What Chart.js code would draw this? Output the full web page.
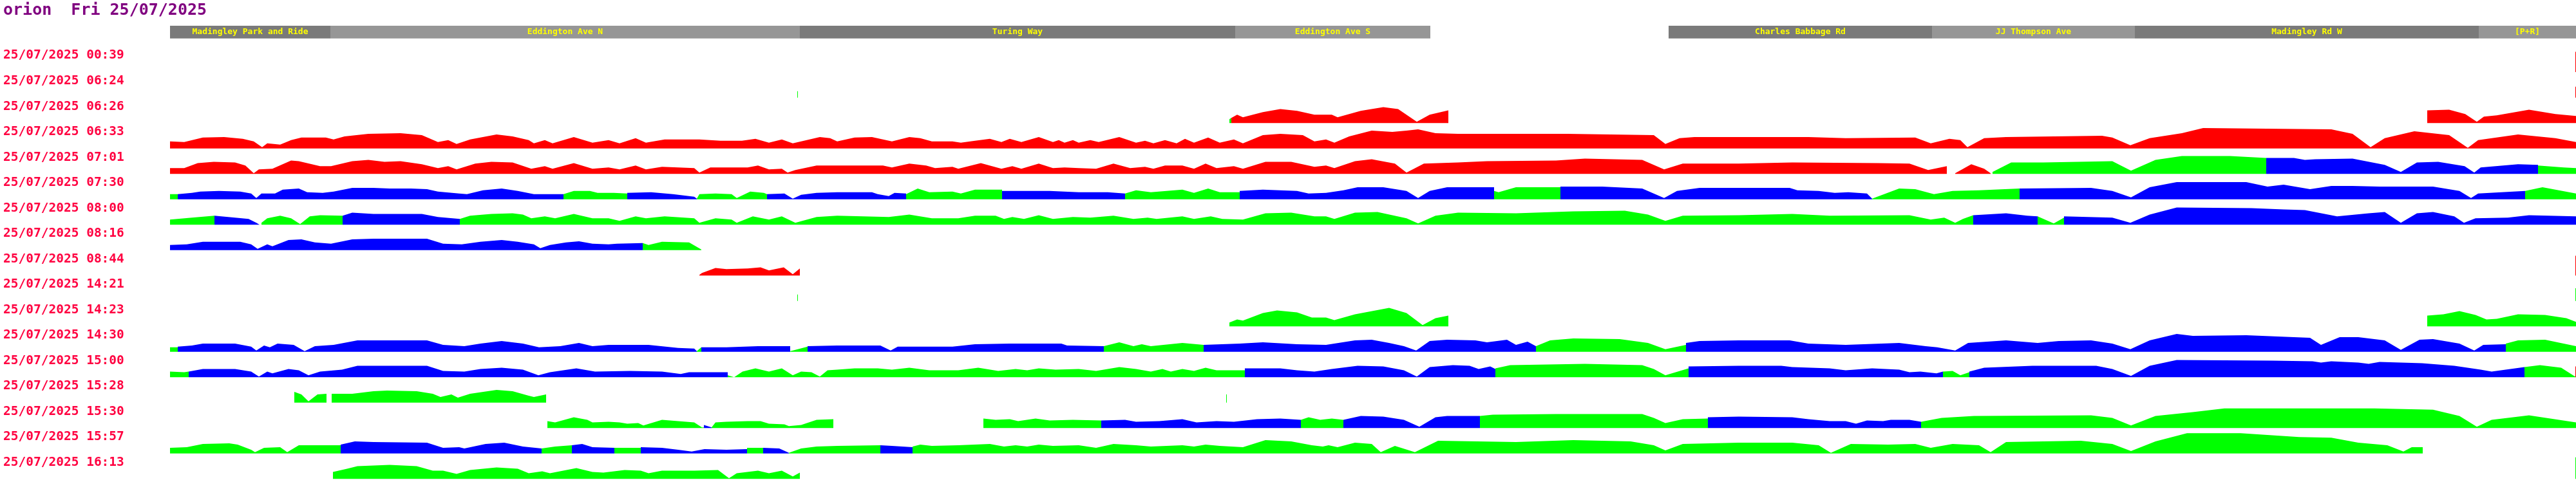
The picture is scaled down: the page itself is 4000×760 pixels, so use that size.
<!DOCTYPE html>
<html lang="en">
<head>
    <meta charset="UTF-8">
    <title>orion Fri 25/07/2025</title>
    <style>
        body {
            margin: 0;
            background-color: #fff;
        }
        .chart-container {
            position: relative;
            width: 4000px;
            height: 760px;
        }
    </style>
    <script src="https://cdn.jsdelivr.net/npm/chart.js@4.4.1/dist/chart.umd.min.js"></script>
</head>
<body>
    <div class="chart-container">
        <canvas id="journeyChart"></canvas>
    </div>

    <script>
        // Journey start times (one row each)
        const rowTimes = [
            '25/07/2025 00:39', '25/07/2025 06:24', '25/07/2025 06:26', '25/07/2025 06:33',
            '25/07/2025 07:01', '25/07/2025 07:30', '25/07/2025 08:00', '25/07/2025 08:16',
            '25/07/2025 08:44', '25/07/2025 14:21', '25/07/2025 14:23', '25/07/2025 14:30',
            '25/07/2025 15:00', '25/07/2025 15:28', '25/07/2025 15:30', '25/07/2025 15:57',
            '25/07/2025 16:13'
        ];

        // Road sections along the route (distance from start)
        const streetNames = ['Madingley Park and Ride', 'Eddington Ave N', 'Turing Way', 'Eddington Ave S',
                             'Charles Babbage Rd', 'JJ Thompson Ave', 'Madingley Rd W', '[P+R]'];
        const streetFrom = [0, 249, 978, 1654, 2327, 2736, 3051, 3585];
        const streetTo   = [249, 978, 1654, 1957, 2736, 3051, 3585, 3736];

        // Run colours
        const runColours = { R: '#ff0000', G: '#00ff00', B: '#0000ff' };

        // Each run: [colour, [distance, speed, distance, speed, ...]]
        const j0039 = [
            ['R', [3735, 32, 3736, 32]]
        ];
        const j0624 = [
            ['G', [974, 10, 975, 10]],
            ['R', [3735, 17, 3736, 17]]
        ];
        const j0626 = [
            ['G', [1645, 6, 1648, 8]],
            ['R', [1648, 8, 1657, 13, 1666, 9, 1697, 17, 1724, 22, 1750, 19, 1777, 13, 1804, 13, 1813, 9, 1849, 19, 1884, 25, 1907, 22, 1936, 2, 1956, 13, 1985, 20]],
            ['R', [3505, 20, 3539, 21, 3564, 14, 3582, 2, 3593, 10, 3613, 12, 3663, 21, 3704, 14, 3736, 11]]
        ];
        const j0633 = [
            ['R', [0, 11, 22, 10, 51, 17, 84, 18, 113, 15, 130, 11, 143, 2, 151, 8, 171, 6, 188, 13, 204, 17, 242, 17, 254, 14, 271, 19, 308, 23, 358, 24, 391, 21, 416, 10, 432, 13, 445, 7, 466, 14, 507, 22, 532, 19, 557, 13, 565, 8, 582, 13, 594, 8, 627, 18, 656, 9, 681, 13, 698, 8, 723, 16, 739, 9, 768, 14, 822, 14, 855, 12, 888, 12, 909, 15, 930, 9, 950, 14, 967, 8, 980, 11, 1009, 18, 1025, 16, 1036, 11,
                   1063, 17, 1090, 18, 1121, 11, 1148, 18, 1165, 16, 1183, 11, 1215, 11, 1228, 9, 1250, 12, 1273, 15, 1291, 10, 1304, 15, 1322, 10, 1349, 18, 1371, 10, 1380, 13, 1389, 9, 1402, 13, 1411, 9, 1429, 13, 1442, 10, 1474, 18, 1500, 9, 1514, 12, 1527, 8, 1545, 13, 1563, 8, 1576, 15, 1590, 9, 1612, 17, 1630, 9, 1652, 14, 1666, 8, 1697, 21, 1724, 23, 1759, 21, 1777, 11, 1795, 14, 1808, 9, 1831, 19, 1866, 28, 1898, 26, 1920, 28, 1938, 30, 1965, 24, 2000, 23, 2108, 23, 2170, 23, 2304, 21, 2322, 7, 2344, 16, 2367, 18, 2436, 18,
                   2544, 18, 2602, 16, 2710, 17, 2734, 8, 2763, 15, 2780, 13, 2791, 2, 2817, 16, 2851, 18, 3000, 20, 3016, 17, 3044, 5, 3074, 16, 3124, 24, 3157, 32, 3356, 30, 3389, 23, 3417, 2, 3439, 16, 3485, 27, 3539, 21, 3568, 1, 3584, 13, 3646, 22, 3704, 16, 3736, 10]]
        ];
        const j0701 = [
            ['R', [0, 9, 22, 9, 43, 17, 68, 19, 101, 18, 117, 13, 130, 1, 138, 7, 159, 8, 188, 21, 200, 20, 233, 12, 250, 12, 283, 20, 308, 22, 333, 19, 358, 20, 391, 15, 416, 9, 432, 12, 445, 7, 474, 16, 499, 19, 532, 18, 561, 8, 582, 12, 594, 8, 627, 17, 656, 8, 681, 10, 698, 7, 723, 13, 739, 7, 764, 11, 814, 9, 822, 2, 839, 10, 897, 10, 913, 13, 930, 7, 950, 8, 959, 2, 971, 6, 1004, 13, 1036, 13,
                   1063, 13, 1107, 13, 1121, 10, 1148, 16, 1174, 13, 1188, 9, 1215, 11, 1224, 8, 1259, 17, 1291, 8, 1308, 12, 1322, 8, 1349, 16, 1371, 9, 1389, 10, 1411, 9, 1438, 8, 1465, 16, 1491, 9, 1514, 11, 1527, 8, 1545, 13, 1572, 13, 1590, 8, 1608, 16, 1625, 9, 1652, 12, 1666, 8, 1701, 19, 1741, 19, 1777, 11, 1795, 13, 1808, 9, 1840, 20, 1866, 23, 1902, 16, 1920, 2, 1947, 16, 2000, 18, 2045, 20, 2152, 21, 2197, 24, 2286, 22, 2320, 7, 2349, 16, 2436, 16,
                   2519, 18, 2652, 17, 2701, 16, 2730, 6, 2759, 12]],
            ['R', [2772, 1, 2797, 15, 2817, 8, 2827, 1]],
            ['G', [2830, 3, 2859, 18, 2909, 18, 3016, 20, 3045, 5, 3083, 22, 3124, 28, 3199, 28, 3255, 25]],
            ['B', [3255, 25, 3298, 25, 3315, 22, 3331, 23, 3389, 24, 3439, 14, 3464, 3, 3489, 18, 3522, 19, 3563, 12, 3578, 2, 3588, 10, 3646, 15, 3677, 14]],
            ['G', [3677, 13, 3717, 10, 3736, 9]]
        ];
        const j0730 = [
            ['G', [0, 8, 12, 8]],
            ['B', [12, 8, 34, 10, 47, 12, 76, 13, 109, 12, 126, 9, 134, 2, 142, 9, 163, 9, 175, 15, 200, 17, 213, 11, 237, 10, 254, 12, 283, 18, 316, 18, 341, 17, 374, 17, 399, 16, 416, 12, 449, 9, 461, 8, 486, 14, 515, 17, 540, 13, 565, 8, 611, 8]],
            ['G', [611, 8, 627, 13, 652, 13, 664, 10, 689, 10, 710, 9]],
            ['B', [710, 10, 747, 11, 781, 8, 814, 4, 818, 1]],
            ['G', [818, 1, 822, 8, 847, 9, 872, 8, 880, 2, 901, 12, 922, 10, 927, 8]],
            ['B', [927, 8, 954, 9, 967, 1, 980, 7, 1004, 10, 1036, 11, 1090, 11, 1099, 8, 1116, 5, 1125, 10, 1143, 9]],
            ['G', [1143, 8, 1161, 17, 1179, 11, 1215, 12, 1228, 9, 1250, 15, 1292, 15]],
            ['B', [1292, 13, 1366, 13, 1411, 11, 1456, 11, 1483, 9]],
            ['G', [1483, 9, 1500, 14, 1523, 11, 1572, 15, 1590, 10, 1612, 17, 1630, 11, 1661, 11]],
            ['B', [1661, 13, 1697, 15, 1750, 13, 1768, 9, 1795, 10, 1822, 14, 1844, 19, 1884, 19, 1920, 13, 1938, 2, 1956, 13, 1983, 19, 2056, 19]],
            ['G', [2056, 13, 2063, 11, 2090, 19, 2159, 19]],
            ['B', [2159, 20, 2224, 20, 2286, 17, 2320, 2, 2340, 13, 2375, 18, 2436, 18, 2515, 18, 2527, 14, 2560, 13, 2585, 10, 2606, 11, 2635, 9, 2643, 1]],
            ['G', [2643, 1, 2685, 17, 2710, 16, 2739, 8, 2768, 13, 2809, 14, 2872, 17]],
            ['B', [2872, 17, 2983, 18, 3016, 13, 3045, 3, 3074, 19, 3116, 27, 3224, 27, 3257, 20, 3282, 23, 3323, 16, 3356, 21, 3389, 21, 3431, 20, 3514, 20, 3555, 13, 3573, 2, 3584, 9, 3657, 13]],
            ['G', [3657, 13, 3684, 19, 3736, 9]]
        ];
        const j0800 = [
            ['G', [0, 8, 34, 11, 69, 14]],
            ['B', [69, 14, 101, 11, 122, 9, 134, 3, 139, 0]],
            ['G', [142, 3, 151, 10, 171, 14, 188, 10, 202, 1, 217, 13, 233, 15, 268, 14]],
            ['B', [268, 14, 283, 19, 316, 17, 391, 17, 416, 12, 450, 9]],
            ['G', [450, 9, 466, 14, 499, 17, 532, 18, 548, 16, 561, 10, 582, 13, 598, 10, 627, 17, 656, 10, 681, 10, 698, 6, 723, 13, 739, 10, 768, 13, 814, 10, 822, 3, 847, 10, 872, 8, 880, 3, 905, 13, 930, 8, 950, 13, 971, 3, 1004, 12, 1036, 14,
                   1116, 12, 1148, 16, 1183, 10, 1224, 10, 1250, 14, 1282, 14, 1295, 9, 1308, 12, 1326, 9, 1349, 15, 1371, 9, 1402, 12, 1429, 11, 1465, 14, 1496, 9, 1518, 11, 1532, 9, 1572, 13, 1590, 9, 1616, 13, 1634, 9, 1666, 8, 1701, 18, 1741, 19, 1777, 13, 1795, 13, 1808, 9, 1840, 19, 1875, 20, 1920, 10, 1938, 2, 1965, 14, 2000, 19, 2090, 18, 2179, 21, 2259, 22, 2295, 16, 2322, 6, 2349, 14, 2436, 15,
                   2519, 17, 2577, 14, 2701, 15, 2734, 8, 2755, 11, 2772, 3, 2784, 9, 2800, 15]],
            ['B', [2800, 15, 2851, 18, 2884, 14, 2900, 13]],
            ['G', [2900, 13, 2925, 2, 2941, 11]],
            ['B', [2941, 13, 3016, 11, 3044, 3, 3074, 16, 3116, 27, 3232, 26, 3282, 24, 3315, 23, 3365, 13, 3414, 18, 3439, 20, 3464, 3, 3489, 18, 3514, 20, 3547, 13, 3562, 3, 3580, 10, 3630, 11, 3663, 15, 3736, 13]]
        ];
        const j0816 = [
            ['B', [0, 8, 26, 9, 51, 13, 84, 13, 109, 13, 126, 9, 136, 2, 151, 9, 159, 6, 184, 16, 204, 17, 225, 12, 250, 10, 283, 17, 316, 18, 399, 18, 424, 10, 453, 9, 482, 13, 515, 16, 540, 13, 565, 9, 575, 3, 590, 8, 615, 12, 635, 14, 656, 10, 681, 9, 694, 10, 734, 11]],
            ['G', [734, 11, 743, 8, 764, 13, 806, 12, 825, 1]]
        ];
        const j0844 = [
            ['R', [822, 1, 826, 4, 847, 12, 864, 10, 897, 11, 917, 13, 930, 8, 953, 13, 967, 2, 978, 11]],
            ['R', [3735, 31, 3736, 31]]
        ];
        const j1421 = [
            ['G', [974, 10, 975, 10]],
            ['G', [3735, 20, 3736, 20]]
        ];
        const j1423 = [
            ['G', [1645, 6, 1657, 11, 1666, 9, 1697, 21, 1719, 25, 1750, 22, 1773, 14, 1795, 14, 1808, 10, 1840, 19, 1893, 29, 1920, 21, 1945, 2, 1965, 13, 1985, 17]],
            ['G', [3505, 17, 3530, 19, 3555, 24, 3580, 18, 3597, 11, 3613, 12, 3646, 19, 3688, 18, 3721, 13, 3736, 7]]
        ];
        const j1430 = [
            ['G', [0, 7, 12, 7]],
            ['B', [12, 8, 34, 10, 51, 13, 101, 13, 126, 8, 134, 2, 146, 10, 155, 7, 167, 13, 192, 11, 209, 1, 225, 9, 254, 11, 291, 18, 333, 18, 399, 18, 424, 11, 457, 9, 482, 13, 515, 17, 548, 13, 573, 7, 606, 9, 635, 14, 656, 9, 681, 11, 743, 11, 789, 6, 814, 5, 818, 1]],
            ['G', [818, 1, 825, 7]],
            ['B', [825, 7, 864, 7, 913, 9, 963, 9]],
            ['G', [963, 1, 971, 3, 990, 8]],
            ['B', [990, 9, 1036, 10, 1103, 10, 1119, 2, 1130, 8, 1215, 8, 1250, 12, 1304, 13, 1384, 13, 1393, 10, 1450, 9]],
            ['G', [1450, 9, 1474, 15, 1496, 9, 1509, 12, 1523, 9, 1572, 14, 1605, 11]],
            ['B', [1605, 11, 1661, 13, 1697, 15, 1750, 12, 1795, 11, 1840, 18, 1866, 19, 1893, 14, 1916, 9, 1935, 2, 1956, 17, 1983, 19, 2027, 18, 2045, 15, 2076, 19, 2090, 11, 2108, 16, 2121, 9]],
            ['G', [2121, 9, 2143, 18, 2179, 21, 2251, 20, 2295, 14, 2322, 4, 2354, 11]],
            ['B', [2354, 14, 2375, 17, 2436, 18, 2515, 18, 2544, 13, 2602, 11, 2685, 14, 2726, 9, 2744, 7, 2772, 2, 2792, 14, 2851, 18, 2900, 14, 2933, 17, 2983, 18, 3016, 13, 3044, 4, 3074, 18, 3116, 28, 3141, 25, 3224, 26, 3298, 23, 3323, 22, 3340, 11, 3369, 23, 3398, 23, 3439, 18, 3464, 3, 3493, 19, 3514, 20, 3555, 13, 3578, 2, 3592, 11, 3627, 12]],
            ['G', [3627, 13, 3646, 18, 3688, 19, 3736, 9]]
        ];
        const j1500 = [
            ['G', [0, 9, 22, 8, 29, 9]],
            ['B', [29, 9, 51, 13, 101, 13, 126, 9, 138, 1, 151, 9, 159, 6, 184, 13, 200, 11, 215, 3, 233, 9, 267, 12, 291, 18, 399, 18, 424, 10, 457, 9, 482, 13, 515, 15, 548, 12, 572, 3, 590, 8, 631, 14, 660, 9, 714, 10, 764, 9, 793, 5, 806, 8, 866, 8]],
            ['G', [866, 3, 876, 0, 889, 9, 909, 14, 930, 9, 950, 14, 967, 3, 980, 9, 996, 8, 1009, 1, 1021, 11, 1036, 12, 1063, 14, 1099, 14, 1121, 12, 1148, 15, 1179, 11, 1224, 11, 1255, 15, 1286, 10, 1313, 13, 1331, 11, 1349, 14, 1375, 12, 1411, 13, 1438, 10, 1474, 16, 1500, 13, 1523, 9, 1541, 13, 1554, 9, 1572, 13, 1590, 10, 1608, 15, 1625, 11, 1669, 11]],
            ['B', [1669, 14, 1724, 14, 1750, 11, 1777, 9, 1804, 13, 1844, 18, 1884, 17, 1916, 11, 1936, 1, 1956, 16, 1992, 19, 2018, 18, 2032, 13, 2050, 17, 2058, 13]],
            ['G', [2058, 14, 2081, 19, 2197, 21, 2286, 19, 2304, 13, 2322, 3, 2358, 14]],
            ['B', [2358, 17, 2436, 18, 2502, 18, 2519, 16, 2577, 14, 2602, 11, 2643, 14, 2685, 12, 2701, 8, 2718, 9, 2743, 6, 2753, 9]],
            ['G', [2753, 9, 2768, 10, 2780, 3, 2794, 8]],
            ['B', [2794, 9, 2817, 15, 2892, 18, 2991, 18, 3016, 13, 3045, 2, 3074, 18, 3116, 27, 3265, 26, 3327, 25, 3340, 23, 3356, 25, 3398, 23, 3414, 21, 3431, 24, 3497, 22, 3547, 18, 3588, 12, 3605, 9, 3656, 16]],
            ['G', [3656, 16, 3680, 19, 3713, 15, 3733, 2, 3735, 1]],
            ['R', [3735, 17, 3736, 17]]
        ];
        const j1528 = [
            ['G', [193, 17, 204, 13, 215, 2, 229, 13, 243, 14]],
            ['G', [251, 14, 283, 14, 316, 18, 337, 19, 383, 18, 408, 14, 420, 9, 437, 13, 447, 8, 466, 14, 507, 20, 532, 18, 557, 11, 565, 9, 584, 13]],
            ['G', [1640, 13, 1641, 13]]
        ];
        const j1530 = [
            ['G', [586, 11, 598, 9, 627, 17, 648, 13, 656, 9, 681, 10, 698, 9, 710, 7, 727, 8, 735, 4, 764, 13, 789, 11, 814, 9, 826, 1, 829, 1]],
            ['B', [829, 5, 841, 1]],
            ['G', [841, 1, 847, 9, 864, 10, 897, 11, 917, 11, 930, 7, 954, 6, 961, 3, 980, 5, 1004, 13, 1030, 14]],
            ['G', [1263, 15, 1282, 13, 1304, 14, 1317, 11, 1344, 15, 1366, 12, 1402, 13, 1446, 12]],
            ['B', [1446, 12, 1483, 13, 1500, 10, 1536, 11, 1572, 14, 1594, 9, 1625, 11, 1652, 10, 1688, 14, 1724, 15, 1756, 13]],
            ['G', [1756, 13, 1768, 17, 1786, 13, 1804, 15, 1822, 13]],
            ['B', [1822, 13, 1849, 19, 1884, 18, 1916, 13, 1940, 2, 1965, 17, 1983, 19, 2034, 19]],
            ['G', [2034, 19, 2054, 21, 2152, 22, 2286, 22, 2304, 16, 2322, 8, 2349, 14, 2388, 15]],
            ['B', [2388, 17, 2436, 18, 2519, 17, 2544, 14, 2577, 11, 2602, 11, 2618, 7, 2635, 12, 2660, 11, 2672, 13, 2701, 13, 2719, 10]],
            ['G', [2719, 10, 2751, 16, 2801, 19, 2983, 20, 3016, 16, 3045, 4, 3083, 19, 3141, 25, 3190, 31, 3423, 31, 3514, 29, 3555, 19, 3582, 2, 3605, 13, 3663, 20, 3736, 9]]
        ];
        const j1557 = [
            ['G', [0, 9, 26, 10, 51, 15, 92, 16, 105, 14, 126, 6, 132, 2, 146, 9, 171, 10, 182, 2, 200, 13, 233, 13, 265, 13]],
            ['B', [265, 14, 287, 19, 316, 18, 399, 17, 424, 9, 449, 10, 457, 8, 490, 15, 519, 17, 548, 11, 577, 8]],
            ['G', [577, 8, 598, 11, 624, 13]],
            ['B', [624, 13, 640, 15, 656, 10, 690, 9]],
            ['G', [690, 9, 731, 9]],
            ['B', [731, 10, 764, 9, 789, 6, 810, 3, 830, 7, 864, 6, 896, 7]],
            ['G', [896, 9, 921, 9]],
            ['B', [921, 9, 946, 8, 961, 1]],
            ['G', [961, 1, 980, 8, 1004, 11, 1036, 12, 1103, 13]],
            ['B', [1103, 13, 1121, 12, 1153, 10]],
            ['G', [1153, 11, 1165, 14, 1183, 12, 1224, 13, 1273, 15, 1295, 11, 1313, 13, 1331, 11, 1349, 14, 1371, 12, 1411, 13, 1438, 9, 1465, 15, 1500, 13, 1523, 11, 1572, 13, 1590, 11, 1608, 14, 1630, 12, 1666, 10, 1701, 21, 1741, 19, 1773, 13, 1790, 11, 1799, 13, 1813, 10, 1840, 17, 1866, 15, 1880, 2, 1902, 12, 1933, 2, 1969, 20, 2090, 18, 2179, 21, 2268, 19, 2304, 13, 2322, 5, 2349, 15, 2436, 17,
                   2519, 17, 2560, 13, 2579, 1, 2610, 15, 2668, 14, 2710, 15, 2734, 9, 2768, 15, 2809, 13, 2827, 2, 2851, 18, 2967, 20, 3016, 15, 3045, 4, 3083, 19, 3132, 32, 3215, 32, 3306, 26, 3356, 25, 3398, 17, 3443, 13, 3468, 3, 3481, 10, 3498, 10]]
        ];
        const j1613 = [
            ['G', [253, 11, 275, 16, 291, 20, 341, 22, 383, 20, 408, 13, 424, 13, 445, 8, 466, 14, 507, 18, 540, 16, 557, 9, 578, 12, 590, 9, 631, 17, 656, 11, 673, 10, 706, 14, 731, 13, 743, 9, 764, 13, 814, 13, 851, 14, 868, 1, 880, 9, 913, 13, 930, 9, 950, 13, 967, 4, 978, 10]],
            ['G', [3735, 34, 3736, 34]]
        ];

        const rowRuns = [j0039, j0624, j0626, j0633, j0701, j0730, j0800, j0816, j0844,
                         j1421, j1423, j1430, j1500, j1528, j1530, j1557, j1613];

        const ROW_STEP = 40;      // value units between rows
        const LABEL_RISE = 26;    // label sits above the row baseline
        const HEADER_LOW = 53, HEADER_HIGH = 73;

        const datasets = [];

        // header band of street names
        streetNames.forEach((name, k) => {
            datasets.push({
                label: name,
                data: [{ x: streetFrom[k], y: HEADER_HIGH }, { x: streetTo[k], y: HEADER_HIGH }],
                fill: { value: HEADER_LOW },
                backgroundColor: k % 2 === 0 ? '#7a7a7a' : '#969696',
                borderColor: 'transparent',
                borderWidth: 0,
                pointRadius: 0
            });
        });

        // speed profiles per journey
        rowRuns.forEach((runs, i) => {
            const base = -ROW_STEP * i;
            runs.forEach(([code, pts]) => {
                const data = [];
                for (let k = 0; k < pts.length; k += 2) {
                    data.push({ x: pts[k], y: base + pts[k + 1] });
                }
                datasets.push({
                    label: rowTimes[i],
                    data: data,
                    fill: { value: base },
                    backgroundColor: runColours[code],
                    borderColor: 'transparent',
                    borderWidth: 0,
                    pointRadius: 0,
                    tension: 0
                });
            });
        });

        // street names written inside the header band
        const streetLabels = {
            id: 'streetLabels',
            afterDatasetsDraw(chart) {
                const { ctx, scales: { x, y } } = chart;
                ctx.save();
                ctx.font = 'bold 13px "DejaVu Sans Mono"';
                ctx.fillStyle = '#ffff00';
                ctx.textAlign = 'center';
                ctx.textBaseline = 'middle';
                streetNames.forEach((name, k) => {
                    const cx = x.getPixelForValue((streetFrom[k] + streetTo[k]) / 2);
                    ctx.fillText(name, cx, y.getPixelForValue((HEADER_LOW + HEADER_HIGH) / 2));
                });
                ctx.restore();
            }
        };

        const ctx = document.getElementById('journeyChart').getContext('2d');
        new Chart(ctx, {
            type: 'line',
            data: { datasets: datasets },
            plugins: [streetLabels],
            options: {
                responsive: true,
                maintainAspectRatio: false,
                animation: false,
                layout: { padding: { left: 5, top: 0, right: 0, bottom: 3 } },
                plugins: {
                    legend: { display: false },
                    tooltip: { enabled: false },
                    title: {
                        display: true,
                        text: 'orion  Fri 25/07/2025',
                        align: 'start',
                        color: '#800080',
                        font: { family: '"DejaVu Sans Mono"', size: 25, weight: 'bold', lineHeight: 1.2 },
                        padding: { top: 1, bottom: 9 }
                    }
                },
                scales: {
                    x: {
                        type: 'linear',
                        min: 0,
                        max: 3736,
                        display: false
                    },
                    y: {
                        type: 'linear',
                        min: -644,
                        max: HEADER_HIGH,
                        grid: { display: false },
                        border: { display: false },
                        afterBuildTicks: scale => {
                            scale.ticks = rowTimes.map((t, i) => ({ value: LABEL_RISE - ROW_STEP * i }));
                        },
                        afterFit: scale => { scale.width = 259; },
                        ticks: {
                            autoSkip: false,
                            crossAlign: 'far',
                            padding: 0,
                            color: '#ff0040',
                            font: { family: '"DejaVu Sans Mono"', size: 19.5, weight: 'bold' },
                            callback: value => rowTimes[Math.round((LABEL_RISE - value) / ROW_STEP)]
                        }
                    }
                }
            }
        });
    </script>
</body>
</html>
